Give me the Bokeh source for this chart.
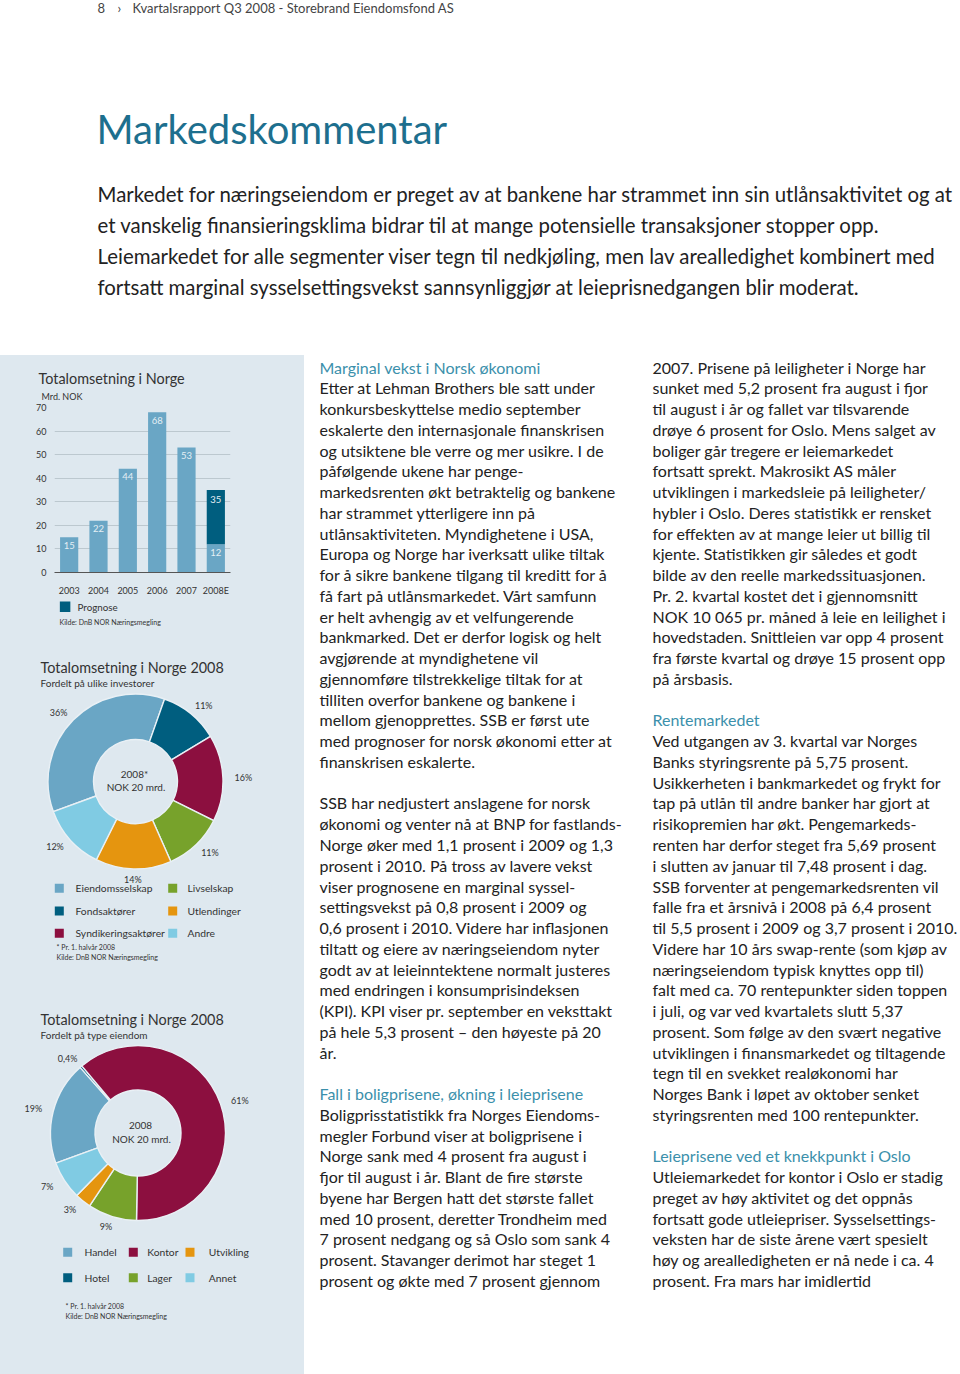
import math
from bokeh.plotting import figure
from bokeh.models import Range1d, FactorRange, FixedTicker
from bokeh.layouts import column, row
from bokeh.embed import file_html
from bokeh.resources import INLINE
from bokeh.core.properties import value

# ---------------- data ----------------
years = ["2003", "2004", "2005", "2006", "2007", "2008E"]
actual = [15, 22, 44, 68, 53, 12]
prognose = [0, 0, 0, 0, 0, 23]          # forecast part of 2008E (total 35)
yticks = [0, 10, 20, 30, 40, 50, 60, 70]

inv_names = ["Eiendomsselskap", "Fondsaktører", "Syndikeringsaktører",
             "Livselskap", "Utlendinger", "Andre"]
inv_pct = [36, 11, 16, 11, 14, 12]

type_names = ["Handel", "Hotel", "Kontor", "Lager", "Utvikling", "Annet"]
type_pct = [19, 0.4, 61, 9, 3, 7]

header_text = "Kvartalsrapport Q3 2008 - Storebrand Eiendomsfond AS"
page_title = "Markedskommentar"
intro_lines = [
    "Markedet for næringseiendom er preget av at bankene har strammet inn sin utlånsaktivitet og at",
    "et vanskelig finansieringsklima bidrar til at mange potensielle transaksjoner stopper opp.",
    "Leiemarkedet for alle segmenter viser tegn til nedkjøling, men lav arealledighet kombinert med",
    "fortsatt marginal sysselsettingsvekst sannsynliggjør at leieprisnedgangen blir moderat.",
]

col1_lines = [
    "Marginal vekst i Norsk økonomi",
    "Etter at Lehman Brothers ble satt under",
    "konkursbeskyttelse medio september",
    "eskalerte den internasjonale finanskrisen",
    "og utsiktene ble verre og mer usikre. I de",
    "påfølgende ukene har penge-",
    "markedsrenten økt betraktelig og bankene",
    "har strammet ytterligere inn på",
    "utlånsaktiviteten. Myndighetene i USA,",
    "Europa og Norge har iverksatt ulike tiltak",
    "for å sikre bankene tilgang til kreditt for å",
    "få fart på utlånsmarkedet. Vårt samfunn",
    "er helt avhengig av et velfungerende",
    "bankmarked. Det er derfor logisk og helt",
    "avgjørende at myndighetene vil",
    "gjennomføre tilstrekkelige tiltak for at",
    "tilliten overfor bankene og bankene i",
    "mellom gjenopprettes. SSB er først ute",
    "med prognoser for norsk økonomi etter at",
    "finanskrisen eskalerte.",
    "",
    "SSB har nedjustert anslagene for norsk",
    "økonomi og venter nå at BNP for fastlands-",
    "Norge øker med 1,1 prosent i 2009 og 1,3",
    "prosent i 2010. På tross av lavere vekst",
    "viser prognosene en marginal syssel-",
    "settingsvekst på 0,8 prosent i 2009 og",
    "0,6 prosent i 2010. Videre har inflasjonen",
    "tiltatt og eiere av næringseiendom nyter",
    "godt av at leieinntektene normalt justeres",
    "med endringen i konsumprisindeksen",
    "(KPI). KPI viser pr. september en veksttakt",
    "på hele 5,3 prosent – den høyeste på 20",
    "år.",
    "",
    "Fall i boligprisene, økning i leieprisene",
    "Boligprisstatistikk fra Norges Eiendoms-",
    "megler Forbund viser at boligprisene i",
    "Norge sank med 4 prosent fra august i",
    "fjor til august i år. Blant de fire største",
    "byene har Bergen hatt det største fallet",
    "med 10 prosent, deretter Trondheim med",
    "7 prosent nedgang og så Oslo som sank 4",
    "prosent. Stavanger derimot har steget 1",
    "prosent og økte med 7 prosent gjennom",
]
col1_headings = [0, 35]

col2_lines = [
    "2007. Prisene på leiligheter i Norge har",
    "sunket med 5,2 prosent fra august i fjor",
    "til august i år og fallet var tilsvarende",
    "drøye 6 prosent for Oslo. Mens salget av",
    "boliger går tregere er leiemarkedet",
    "fortsatt sprekt. Makrosikt AS måler",
    "utviklingen i markedsleie på leiligheter/",
    "hybler i Oslo. Deres statistikk er rensket",
    "for effekten av at mange leier ut billig til",
    "kjente. Statistikken gir således et godt",
    "bilde av den reelle markedssituasjonen.",
    "Pr. 2. kvartal kostet det i gjennomsnitt",
    "NOK 10 065 pr. måned å leie en leilighet i",
    "hovedstaden. Snittleien var opp 4 prosent",
    "fra første kvartal og drøye 15 prosent opp",
    "på årsbasis.",
    "",
    "Rentemarkedet",
    "Ved utgangen av 3. kvartal var Norges",
    "Banks styringsrente på 5,75 prosent.",
    "Usikkerheten i bankmarkedet og frykt for",
    "tap på utlån til andre banker har gjort at",
    "risikopremien har økt. Pengemarkeds-",
    "renten har derfor steget fra 5,69 prosent",
    "i slutten av januar til 7,48 prosent i dag.",
    "SSB forventer at pengemarkedsrenten vil",
    "falle fra et årsnivå i 2008 på 6,4 prosent",
    "til 5,5 prosent i 2009 og 3,7 prosent i 2010.",
    "Videre har 10 års swap-rente (som kjøp av",
    "næringseiendom typisk knyttes opp til)",
    "falt med ca. 70 rentepunkter siden toppen",
    "i juli, og var ved kvartalets slutt 5,37",
    "prosent. Som følge av den svært negative",
    "utviklingen i finansmarkedet og tiltagende",
    "tegn til en svekket realøkonomi har",
    "Norges Bank i løpet av oktober senket",
    "styringsrenten med 100 rentepunkter.",
    "",
    "Leieprisene ved et knekkpunkt i Oslo",
    "Utleiemarkedet for kontor i Oslo er stadig",
    "preget av høy aktivitet og det oppnås",
    "fortsatt gode utleiepriser. Sysselsettings-",
    "veksten har de siste årene vært spesielt",
    "høy og arealledigheten er nå nede i ca. 4",
    "prosent. Fra mars har imidlertid",
]
col2_headings = [17, 38]

# ---------------- style ----------------
FONT = "Lato"
PANEL = "#dee8ef"
SEP = "#e9f0f5"
C_BLUE = "#6aa6c5"
C_TEAL = "#005e7f"
C_MAROON = "#8c0f3f"
C_GREEN = "#77a22b"
C_ORANGE = "#e5950f"
C_SKY = "#80cbe3"
TXT = "#222222"
SMALL = "#333333"
HEAD = "#3b90ab"
TITLE_C = "#1d6f8e"
MID_SHIFT = 0.38   # baseline -> visual middle, in em

inv_colors = [C_BLUE, C_TEAL, C_MAROON, C_GREEN, C_ORANGE, C_SKY]
type_colors = [C_BLUE, C_TEAL, C_MAROON, C_GREEN, C_ORANGE, C_SKY]


def page_fig(x0, x1, y0, y1, fill="white"):
    p = figure(width=int(x1 - x0), height=int(y1 - y0),
               x_range=Range1d(x0, x1), y_range=Range1d(-y1, -y0),
               toolbar_location=None, output_backend="svg", min_border=0,
               x_axis_type=None, y_axis_type=None, frame_align=False)
    p.outline_line_color = None
    p.background_fill_color = fill
    p.border_fill_color = fill
    return p


def txt(p, xs, ys, texts, size, color=TXT, align="left", mid=False):
    # ys are baselines (page px) unless mid=True (visual centres)
    yy = [-(y if mid else y - MID_SHIFT * size) for y in ys]
    p.text(x=xs, y=yy, text=texts, text_font=value(FONT),
           text_font_size=f"{size}px", text_color=color,
           text_align=align, text_baseline="middle")


def pct_text(v):
    return (f"{v}".replace(".", ",")) + "%"


# ---------------- top area ----------------
top = page_fig(0, 960, 0, 355)
txt(top, [97], [7], ["8"], 13, "#444444", mid=True)
txt(top, [117], [7], ["›"], 13, "#444444", mid=True)
txt(top, [132], [7], [header_text], 13, "#444444", mid=True)
txt(top, [96], [143.3], [page_title], 40, TITLE_C)
txt(top, [97] * len(intro_lines), [201.7 + 31 * i for i in range(len(intro_lines))],
    intro_lines, 20.4, TXT)

# ---------------- text columns ----------------
tf = page_fig(304, 960, 355, 1374)
for lines, heads, x0 in ((col1_lines, col1_headings, 319), (col2_lines, col2_headings, 652)):
    body_i = [i for i, s in enumerate(lines) if s and i not in heads]
    txt(tf, [x0] * len(body_i), [372.6 + 20.76 * i for i in body_i],
        [lines[i] for i in body_i], 16, TXT)
    txt(tf, [x0] * len(heads), [372.6 + 20.76 * i for i in heads],
        [lines[i] for i in heads], 16, HEAD)

# ---------------- bar chart ----------------
bt = page_fig(0, 304, 355, 401, PANEL)
txt(bt, [38], [383.3], ["Totalomsetning i Norge"], 14.4, SMALL)
txt(bt, [41], [399], ["Mrd. NOK"], 9, SMALL)

bar = figure(width=304, height=197,
             x_range=FactorRange(factors=years, range_padding=0),
             y_range=Range1d(0, 70), toolbar_location=None, output_backend="svg",
             min_border_left=54, min_border_right=74, min_border_top=6, min_border_bottom=21,
             frame_align=False)
bar.outline_line_color = None
bar.background_fill_color = PANEL
bar.border_fill_color = PANEL
totals = [a + f for a, f in zip(actual, prognose)]
bar.vbar(x=years, top=actual, width=0.62, fill_color=C_BLUE, line_color=None)
fx = [y for y, f in zip(years, prognose) if f > 0]
fb = [a for a, f in zip(actual, prognose) if f > 0]
ft = [t for t, f in zip(totals, prognose) if f > 0]
bar.vbar(x=fx, bottom=fb, top=ft, width=0.62, fill_color=C_TEAL, line_color=None)
bar.text(x=years, y=actual, text=[str(v) for v in actual], text_font=value(FONT),
         text_font_size="9.5px", text_color="#e4eef4", text_align="center",
         text_baseline="middle", y_offset=8)
bar.text(x=fx, y=ft, text=[str(v) for v in ft], text_font=value(FONT),
         text_font_size="9.5px", text_color="#e4eef4", text_align="center",
         text_baseline="middle", y_offset=9)
bar.xgrid.visible = False
bar.ygrid.grid_line_color = "#b4bfc7"
bar.ygrid.grid_line_width = 0.8
bar.yaxis.ticker = FixedTicker(ticks=yticks)
bar.yaxis.axis_line_color = None
bar.yaxis.major_tick_line_color = None
bar.yaxis.minor_tick_line_color = None
bar.yaxis.major_label_standoff = 2
bar.yaxis.major_label_text_font = FONT
bar.yaxis.major_label_text_font_size = "9px"
bar.yaxis.major_label_text_color = SMALL
bar.xaxis.axis_line_color = "#555555"
bar.xaxis.axis_line_width = 1
bar.xaxis.major_tick_line_color = None
bar.xaxis.major_label_standoff = 6
bar.xaxis.major_label_text_font = FONT
bar.xaxis.major_label_text_font_size = "9px"
bar.xaxis.major_label_text_color = SMALL

# ---------------- rest of the panel (legend + donuts) ----------------
rest = page_fig(0, 304, 598, 1374, PANEL)
rest.rect(x=[64.6], y=[-606.2], width=10.5, height=10.5, fill_color=C_TEAL, line_color=None)
txt(rest, [77], [606.2], ["Prognose"], 9.8, SMALL, mid=True)
txt(rest, [59], [621.7], ["Kilde: DnB NOR Næringsmegling"], 7, SMALL, mid=True)

START_DEG = 200.2
LABEL_RX = 108
LABEL_RY = 98


def donut(p, cx, cy, r_in, r_out, pcts, colors):
    tot = sum(pcts)
    starts, ends, mids = [], [], []
    a = math.radians(START_DEG)
    for v in pcts:
        span = math.radians(360.0 * v / tot)
        starts.append(a)
        ends.append(a - span)
        mids.append(a - span / 2)
        a -= span
    p.annular_wedge(x=cx, y=-cy, inner_radius=r_in, outer_radius=r_out,
                    start_angle=starts, end_angle=ends, direction="clock",
                    fill_color=colors, line_color=SEP, line_width=1.4)
    lx = [cx + LABEL_RX * math.cos(m) for m in mids]
    ly = [cy - LABEL_RY * math.sin(m) for m in mids]
    txt(p, lx, ly, [pct_text(v) for v in pcts], 9, SMALL, "center", mid=True)


# donut 1
txt(rest, [40], [672.7], ["Totalomsetning i Norge 2008"], 14.4, SMALL)
txt(rest, [40], [686], ["Fordelt på ulike investorer"], 10, SMALL)
donut(rest, 135, 781, 42, 87.5, inv_pct, inv_colors)
txt(rest, [134, 135.5], [773, 786], ["2008*", "NOK 20 mrd."], 10, SMALL, "center", mid=True)
lg_x = [58.8, 172.2]
lg_tx = [75, 187]
lg_y = [887.8, 910.5, 932.8]
sx = [lg_x[i // 3] for i in range(len(inv_names))]
sy = [lg_y[i % 3] for i in range(len(inv_names))]
rest.rect(x=sx, y=[-v for v in sy], width=9, height=9, fill_color=inv_colors, line_color=None)
txt(rest, [lg_tx[i // 3] for i in range(len(inv_names))], sy, inv_names, 10.3, SMALL, mid=True)
txt(rest, [56, 56], [946.5, 956.5], ["* Pr. 1. halvår 2008", "Kilde: DnB NOR Næringsmegling"],
    7, SMALL, mid=True)

# donut 2
txt(rest, [40], [1024.5], ["Totalomsetning i Norge 2008"], 14.4, SMALL)
txt(rest, [40], [1038], ["Fordelt på type eiendom"], 10, SMALL)
donut(rest, 137.5, 1132.5, 43, 87.5, type_pct, type_colors)
txt(rest, [140, 141], [1125, 1138], ["2008", "NOK 20 mrd."], 10, SMALL, "center", mid=True)
lg2_x = [67.2, 132.8, 189.5]
lg2_tx = [84, 146.7, 208.3]
lg2_y = [1251.8, 1277.2]
sx2 = [lg2_x[i // 2] for i in range(len(type_names))]
sy2 = [lg2_y[i % 2] for i in range(len(type_names))]
rest.rect(x=sx2, y=[-v for v in sy2], width=9, height=9, fill_color=type_colors, line_color=None)
txt(rest, [lg2_tx[i // 2] for i in range(len(type_names))], sy2, type_names, 10.3, SMALL, mid=True)
txt(rest, [65, 65], [1305.7, 1315.5], ["* Pr. 1. halvår 2008", "Kilde: DnB NOR Næringsmegling"],
    7, SMALL, mid=True)

left = column(bt, bar, rest, spacing=0, styles={"background-color": PANEL})
layout = column(top, row(left, tf, spacing=0), spacing=0)
open("out.html", "w").write(file_html(layout, INLINE, title="Markedskommentar"))
